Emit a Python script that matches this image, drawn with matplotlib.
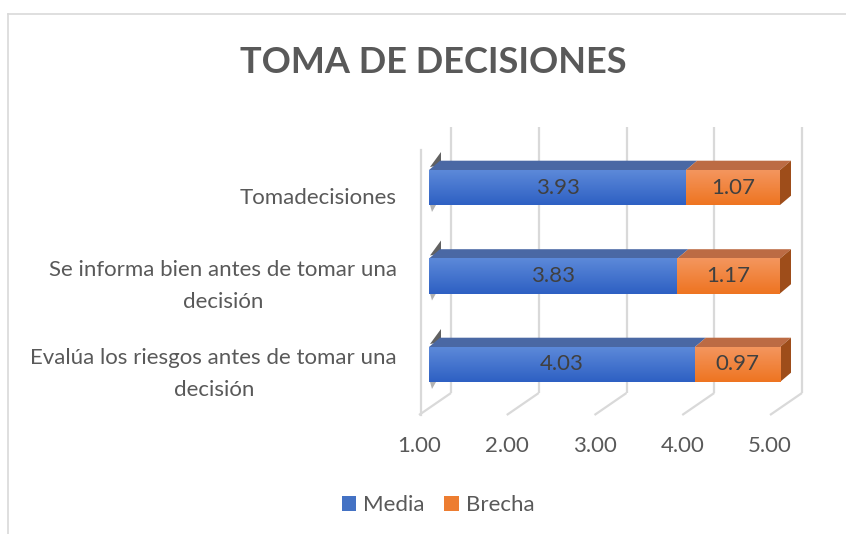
import matplotlib
matplotlib.use("Agg")
import matplotlib.pyplot as plt
import numpy as np
from matplotlib.patches import Polygon, Patch
from matplotlib.colors import LinearSegmentedColormap
from matplotlib.lines import Line2D

# ---------------- data ----------------
categories = ["Tomadecisiones",
              "Se informa bien antes de tomar una\ndecisión",
              "Evalúa los riesgos antes de tomar una\ndecisión"]
media = [3.93, 3.83, 4.03]
brecha = [1.07, 1.17, 0.97]
x_ticks = [1.00, 2.00, 3.00, 4.00, 5.00]
x_min = 1.0
title = "TOMA DE DECISIONES"
series_names = ["Media", "Brecha"]

# ---------------- layout ----------------
W, H = 846, 534
plt.rcParams['font.family'] = ['Lato', 'DejaVu Sans']
fig = plt.figure(figsize=(W / 100, H / 100), dpi=100)

PX_X = 87.75   # px per value unit
PX_Y = 88.5    # px per category step
X0_PX = 429    # px of axis minimum on bar front plane
C0_PX = 364.5  # px of first category centre

def vx(px):
    return x_min + (px - X0_PX) / PX_X

def cy(py):
    return (C0_PX - py) / PX_Y

ax_l, ax_r, ax_t, ax_b = 380, 830, 100, 470
ax = fig.add_axes([ax_l / W, 1 - ax_b / H, (ax_r - ax_l) / W, (ax_b - ax_t) / H])
ax.set_axis_off()

# depth offsets (data units)
bdx, bdy = 11 / PX_X, 9.3 / PX_Y      # bar depth
wdx = 22 / PX_X                         # back wall offset
fdx = -10 / PX_X                        # front plane offset
half_h = 17.5 / PX_Y

grid_c = '#D9D9D9'
text_c = '#595959'
FS = 16

# back wall gridlines + floor diagonals
for v in x_ticks:
    ax.plot([v + wdx, v + wdx], [cy(393), cy(127)], color=grid_c, lw=1.6, zorder=0,
            solid_capstyle='butt')
    ax.plot([v + wdx, v + fdx], [cy(393), cy(415)], color=grid_c, lw=1.6, zorder=0,
            solid_capstyle='butt')
    ax.text(v + fdx, cy(446), f"{v:.2f}", ha='center', va='center', fontsize=FS,
            color=text_c, clip_on=False)
# left front edge
ax.plot([vx(420.5), vx(420.5)], [cy(150), cy(415)], color=grid_c, lw=1.6, zorder=0)

def grad_rect(x0, x1, y0, y1, ctop, cbot, z):
    cmap = LinearSegmentedColormap.from_list('g', [cbot, ctop])
    arr = np.linspace(0, 1, 64).reshape(-1, 1)
    ax.imshow(arr, extent=[x0, x1, y0, y1], origin='lower', cmap=cmap,
              aspect='auto', zorder=z, interpolation='bilinear')

blue_top, blue_bot, blue_lid = '#5C89D9', '#2E60C3', '#4A68A4'
or_top, or_bot, or_lid = '#F4965E', '#EE7421', '#BC6B44'
or_side = '#9E4D1A'

n = len(categories)
for i, (cat, m, b) in enumerate(zip(categories, media, brecha)):
    c = n - 1 - i
    y0, y1 = c - half_h, c + half_h
    x_start = x_min
    x_mid = m
    x_end = m + b
    # dark left cap shadow
    ax.add_patch(Polygon([(x_start + 1 / PX_X, y1 + 3 / PX_Y), (x_start + 12 / PX_X, y1 + 18 / PX_Y),
                          (x_start + 12 / PX_X, y1 + 5 / PX_Y)],
                         closed=True, facecolor='#3A3A3A', edgecolor='none', alpha=0.8, zorder=1))
    ax.add_patch(Polygon([(x_start + 1 / PX_X, y0), (x_start + 7 / PX_X, y0),
                          (x_start + 3 / PX_X, y0 - 7 / PX_Y)],
                         closed=True, facecolor='#555555', edgecolor='none', alpha=0.45, zorder=1))
    # lids (top faces)
    ax.add_patch(Polygon([(x_start, y1), (x_start + bdx, y1 + bdy), (x_mid + bdx, y1 + bdy), (x_mid, y1)],
                         closed=True, facecolor=blue_lid, edgecolor='none', zorder=2))
    ax.add_patch(Polygon([(x_mid, y1), (x_mid + bdx, y1 + bdy), (x_end + bdx, y1 + bdy), (x_end, y1)],
                         closed=True, facecolor=or_lid, edgecolor='none', zorder=2))
    # right side face
    ax.add_patch(Polygon([(x_end, y0), (x_end + bdx, y0 + bdy), (x_end + bdx, y1 + bdy), (x_end, y1)],
                         closed=True, facecolor=or_side, edgecolor='none', zorder=2))
    # front faces
    grad_rect(x_start, x_mid, y0, y1, blue_top, blue_bot, 3)
    grad_rect(x_mid, x_end, y0, y1, or_top, or_bot, 3)
    # data labels
    ax.text((x_start + x_mid) / 2, c, f"{m:.2f}", ha='center', va='center', fontsize=FS,
            color='#404040', zorder=5)
    ax.text((x_mid + x_end) / 2, c, f"{b:.2f}", ha='center', va='center', fontsize=FS,
            color='#404040', zorder=5)
    # category label
    ax.text(vx(397), c - 10 / PX_Y, cat, ha='right', va='center', multialignment='center',
            fontsize=FS, color=text_c, clip_on=False, linespacing=1.75)

ax.set_xlim(vx(ax_l), vx(ax_r))
ax.set_ylim(cy(ax_b), cy(ax_t))

# title
fig.text(433.5 / W, 1 - 62 / H, title, ha='center', va='center', fontsize=26,
         fontweight='bold', color=text_c)

# legend
handles = [Patch(facecolor='#4472C4', edgecolor='none'), Patch(facecolor='#ED7D31', edgecolor='none')]
leg = fig.legend(handles, series_names, loc='center', bbox_to_anchor=(438 / W, 1 - 505 / H),
                 ncol=2, frameon=False, fontsize=FS, handlelength=0.65, handleheight=0.65,
                 handletextpad=0.3, columnspacing=0.9, labelcolor=text_c)

# chart area border
fig.add_artist(Line2D([8 / W, 8 / W], [0, 1 - 14 / H], transform=fig.transFigure, color='#D9D9D9', lw=1.2))
fig.add_artist(Line2D([8 / W, 1], [1 - 14 / H, 1 - 14 / H], transform=fig.transFigure, color='#D9D9D9', lw=1.2))

fig.savefig("out.png", dpi=100)
